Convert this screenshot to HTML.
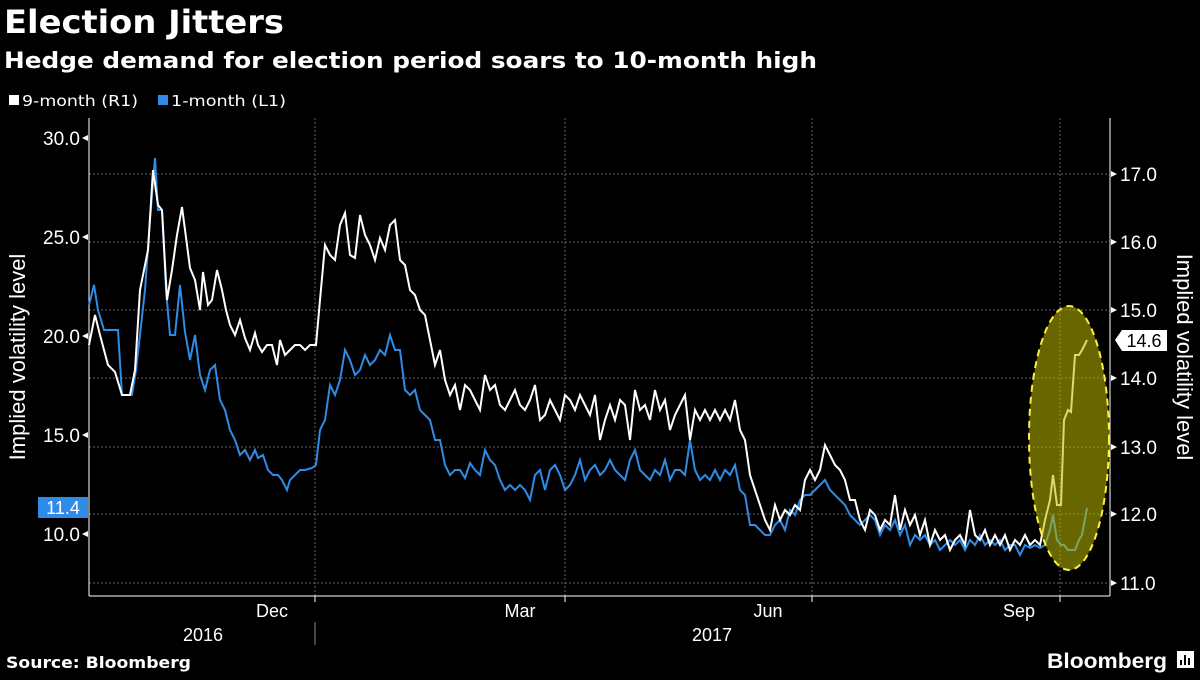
<!DOCTYPE html>
<html><head><meta charset="utf-8"><style>
body{margin:0;background:#000;width:1200px;height:675px;overflow:hidden;font-family:"Liberation Sans","DejaVu Sans",sans-serif;}
</style></head><body>
<svg width="1200" height="675" xmlns="http://www.w3.org/2000/svg" font-family="Liberation Sans, DejaVu Sans, sans-serif">
<rect width="1200" height="675" fill="#000"/>
<text x="4" y="33" fill="#fff" font-size="32" font-weight="bold" font-family="DejaVu Sans, sans-serif" textLength="280" lengthAdjust="spacingAndGlyphs">Election Jitters</text>
<text x="4" y="68" fill="#fff" font-size="22" font-weight="bold" font-family="DejaVu Sans, sans-serif" textLength="813" lengthAdjust="spacingAndGlyphs">Hedge demand for election period soars to 10-month high</text>
<rect x="9" y="95" width="10" height="10" fill="#fff"/>
<text x="22" y="106" fill="#fff" font-size="15" font-family="DejaVu Sans, sans-serif" textLength="116" lengthAdjust="spacingAndGlyphs">9-month (R1)</text>
<rect x="158" y="95" width="10" height="10" fill="#2e8be6"/>
<text x="171" y="106" fill="#fff" font-size="15" font-family="DejaVu Sans, sans-serif" textLength="115" lengthAdjust="spacingAndGlyphs">1-month (L1)</text>
<g stroke="#666" stroke-dasharray="2,2" stroke-width="1">
<line x1="89" x2="1108" y1="174" y2="174"/><line x1="89" x2="1108" y1="242" y2="242"/><line x1="89" x2="1108" y1="310" y2="310"/><line x1="89" x2="1108" y1="378" y2="378"/><line x1="89" x2="1108" y1="447" y2="447"/><line x1="89" x2="1108" y1="514" y2="514"/><line x1="89" x2="1108" y1="583" y2="583"/>
<line x1="315" x2="315" y1="118" y2="596"/><line x1="565" x2="565" y1="118" y2="596"/><line x1="812" x2="812" y1="118" y2="596"/><line x1="1060" x2="1060" y1="118" y2="596"/>
</g>
<g stroke="#fff" stroke-width="1" fill="none">
<line x1="89" y1="118" x2="89" y2="596"/><line x1="1110" y1="118" x2="1110" y2="596"/><line x1="89" y1="596" x2="1110" y2="596"/>
<line x1="315" y1="596" x2="315" y2="602"/><line x1="565" y1="596" x2="565" y2="602"/><line x1="812" y1="596" x2="812" y2="602"/><line x1="1060" y1="596" x2="1060" y2="602"/>
<line x1="315" y1="622" x2="315" y2="645" stroke="#888"/>
</g>
<g fill="#fff" font-size="19">
<text x="80" y="145" text-anchor="end">30.0</text><text x="80" y="244" text-anchor="end">25.0</text><text x="80" y="343" text-anchor="end">20.0</text><text x="80" y="442" text-anchor="end">15.0</text><text x="80" y="541" text-anchor="end">10.0</text>
<text x="1120" y="181">17.0</text><text x="1120" y="249">16.0</text><text x="1120" y="317">15.0</text><text x="1120" y="385">14.0</text><text x="1120" y="454">13.0</text><text x="1120" y="521">12.0</text><text x="1120" y="590">11.0</text>
</g>
<g fill="#fff"><path d="M82 138l6-3v6z"/><path d="M82 237l6-3v6z"/><path d="M82 336l6-3v6z"/><path d="M82 435l6-3v6z"/><path d="M82 534l6-3v6z"/>
<path d="M1117 174l-6-3v6z"/><path d="M1117 242l-6-3v6z"/><path d="M1117 310l-6-3v6z"/><path d="M1117 378l-6-3v6z"/><path d="M1117 447l-6-3v6z"/><path d="M1117 514l-6-3v6z"/><path d="M1117 583l-6-3v6z"/></g>
<text transform="translate(25,357) rotate(-90)" fill="#fff" font-size="22" text-anchor="middle">Implied volatility level</text>
<text transform="translate(1177,357) rotate(90)" fill="#fff" font-size="22" text-anchor="middle">Implied volatility level</text>
<g fill="#fff" font-size="18" text-anchor="middle">
<text x="272" y="617">Dec</text><text x="520" y="617">Mar</text><text x="768" y="617">Jun</text><text x="1019" y="617">Sep</text>
<text x="203" y="641">2016</text><text x="712" y="641">2017</text></g>
<polyline fill="none" stroke="#2e8be6" stroke-width="2" points="89,305 94,285 98,310 104,330 110,330 118,330 122,395 132,395 136,370 145,290 150,220 155,158 158,210 162,210 166,290 170,335 175,335 180,285 185,332 190,360 195,335 200,375 205,390 210,370 215,365 220,400 225,410 230,430 235,440 240,455 245,450 250,460 255,450 258,458 263,455 268,470 273,475 278,475 282,480 287,490 290,480 295,475 300,470 305,470 312,468 316,465 320,430 325,420 330,385 335,395 340,380 345,350 350,360 355,375 360,370 365,355 370,365 375,360 380,350 385,355 390,335 395,350 400,350 405,390 410,395 415,390 420,410 425,415 430,420 435,440 440,440 445,465 450,475 455,470 460,470 465,478 470,463 475,470 480,475 485,450 490,460 495,465 500,480 505,490 510,485 515,490 520,485 525,490 530,500 535,475 540,470 545,490 550,470 555,465 560,475 565,490 570,485 575,475 580,460 585,480 590,470 595,465 600,475 605,470 610,460 615,470 620,475 625,480 630,460 635,450 640,470 645,475 650,480 655,470 660,475 665,460 670,480 675,470 680,470 685,475 690,440 695,470 700,480 705,475 710,480 715,470 720,480 725,470 730,475 735,465 740,490 745,495 750,525 755,525 760,530 765,535 770,535 775,525 780,520 785,530 790,510 795,515 800,500 805,495 810,495 815,490 820,485 825,480 830,490 835,495 840,500 845,505 850,515 855,520 860,525 865,520 870,515 875,520 880,535 885,525 890,530 895,520 900,535 905,525 910,545 915,535 920,540 925,535 930,545 935,540 940,550 945,545 950,540 955,545 960,540 965,550 970,540 975,545 980,535 985,545 990,540 995,545 1000,540 1005,550 1010,545 1015,545 1020,555 1025,545 1030,548 1035,545 1040,548 1045,545 1050,530 1053,515 1057,540 1061,545 1064,545 1068,550 1071,550 1075,550 1079,540 1082,535 1087,508"/>
<polyline fill="none" stroke="#fff" stroke-width="2" points="89,345 95,315 100,335 108,365 115,372 122,395 130,395 135,370 140,290 148,250 153,170 158,205 162,210 167,300 172,270 177,235 182,207 187,245 190,268 195,280 200,310 203,272 208,305 212,300 217,270 222,290 226,310 230,325 235,335 240,320 245,338 250,350 255,333 258,345 262,352 267,345 272,345 277,365 280,340 285,355 290,350 295,345 300,345 305,350 310,345 316,345 320,300 325,245 330,255 335,260 340,225 345,213 350,255 355,258 360,215 365,235 370,245 375,260 380,238 385,250 390,225 395,220 400,260 405,265 410,290 415,295 420,310 425,315 430,340 435,365 440,350 445,380 450,395 455,385 460,410 465,385 470,390 475,400 480,410 485,375 490,390 495,385 500,405 505,410 510,400 515,390 520,405 525,410 530,400 535,385 540,420 545,415 550,400 555,410 560,420 565,395 570,400 575,410 580,395 585,405 590,415 595,395 600,440 605,420 610,405 615,420 620,400 625,405 630,440 635,390 640,410 645,405 650,420 655,390 660,410 665,400 670,430 675,415 680,405 685,395 690,440 695,410 700,420 705,410 710,420 715,410 720,420 725,410 730,420 735,400 740,430 745,440 750,475 755,490 760,505 765,520 770,530 775,505 780,520 785,510 790,515 795,505 800,510 805,480 810,470 815,480 820,470 825,445 830,455 835,465 840,470 845,480 850,500 855,500 860,520 865,530 870,510 875,515 880,530 885,520 890,525 895,495 900,530 905,510 910,525 915,515 920,535 925,520 930,545 935,530 940,540 945,535 950,550 955,540 960,535 965,545 970,510 975,535 980,540 985,530 990,545 995,535 1000,545 1005,535 1010,550 1015,540 1020,545 1025,535 1030,545 1035,540 1040,545 1045,520 1050,500 1053,475 1057,505 1061,505 1064,420 1068,410 1071,412 1075,355 1079,355 1082,350 1087,340"/>
<ellipse cx="1069" cy="438" rx="40" ry="132" fill="rgba(190,185,0,0.55)" stroke="#ffef3a" stroke-width="2" stroke-dasharray="7,5"/>
<path d="M38 497h50v21h-50z" fill="#2e8be6"/>
<text x="63" y="514" fill="#fff" font-size="18" text-anchor="middle">11.4</text>
<path d="M1115 340l7-10h45v21h-45z" fill="#fff"/>
<text x="1144" y="347" fill="#000" font-size="18" text-anchor="middle">14.6</text>
<text x="6" y="668" fill="#fff" font-size="16" font-weight="bold" font-family="DejaVu Sans, sans-serif" textLength="185" lengthAdjust="spacingAndGlyphs">Source: Bloomberg</text>
<text x="1047" y="668" fill="#fff" font-size="21" font-weight="bold" textLength="120" lengthAdjust="spacingAndGlyphs">Bloomberg</text>
<rect x="1177" y="651" width="17" height="17" fill="#fff"/>
<g stroke="#000" stroke-width="2"><line x1="1181" y1="665" x2="1181" y2="660"/><line x1="1185" y1="665" x2="1185" y2="655"/><line x1="1189" y1="665" x2="1189" y2="658"/></g>
</svg>
</body></html>
